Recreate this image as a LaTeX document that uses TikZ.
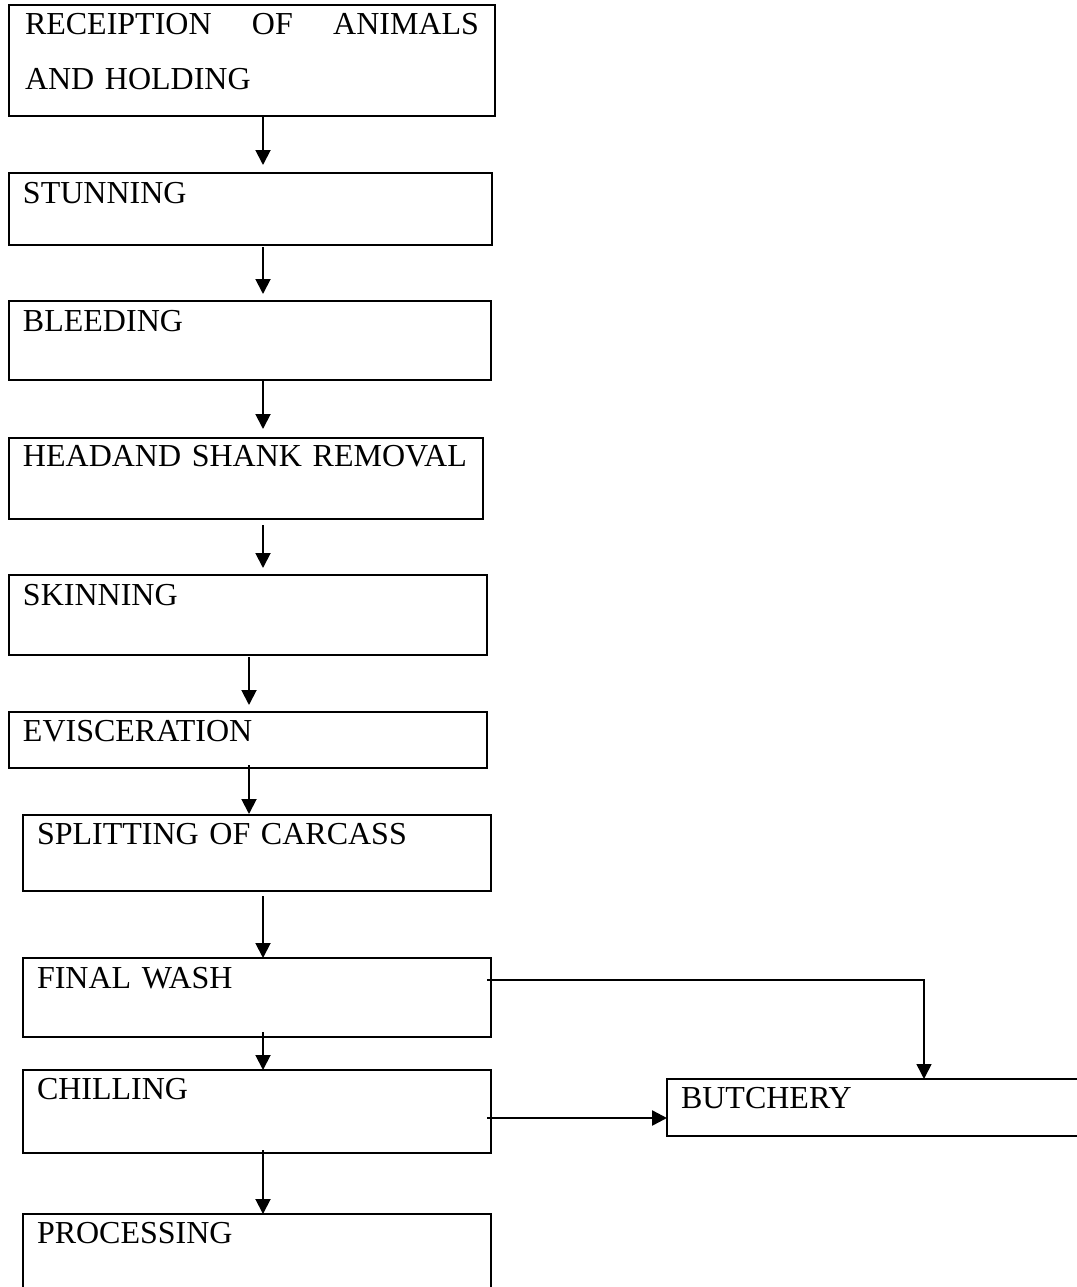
\documentclass[tikz,border=0pt]{standalone}
\usepackage{fontspec}
\setmainfont{Liberation Serif}
\usetikzlibrary{positioning,arrows.meta}

\begin{document}
\begin{tikzpicture}[x=1pt,y=-1pt,
   stage/.style={draw, rectangle, line width=2.3pt, outer sep=0pt, anchor=north west, inner xsep=14pt, inner ysep=0pt,
      align=left, text height=30pt, font=\fontsize{32}{55}\selectfont},
   flow/.style={-{Triangle[width=15pt,length=15pt]}, line width=1.9pt}]
   \useasboundingbox (0,0) rectangle (1076,1287);
   \coordinate (colA) at (263,0);
   \coordinate (colB) at (249,0);

   \node[stage, text width=454pt, minimum width=486pt, text depth=81pt] (recv) at (9,5)
   {RECEIPTION\hfill OF\hfill ANIMALS\\AND HOLDING};
   \node[stage, text width=455pt, text depth=42pt] (stun) [below=57pt of recv.south west, anchor=north west]
   {STUNNING};
   \node[stage, text width=454pt, text depth=49pt] (bleed) [below=56pt of stun.south west, anchor=north west]
   {BLEEDING};
   \node[stage, text width=446pt, text height=28pt, text depth=53pt] (head) [below=58pt of bleed.south west, anchor=north west]
   {HEADAND SHANK REMOVAL};
   \node[stage, text width=450pt, text depth=50pt] (skin) [below=56pt of head.south west, anchor=north west]
   {SKINNING};
   \node[stage, text width=450pt, text height=29pt, text depth=27pt] (evis) [below=57pt of skin.south west, anchor=north west]
   {EVISCERATION};
   \node[stage, text width=440pt, text height=29pt, text depth=47pt] (split) [below=47pt of evis.south west, anchor=north west, xshift=14pt]
   {SPLITTING OF CARCASS};
   \node[stage, text width=440pt, text depth=49pt] (wash) [below=67pt of split.south west, anchor=north west]
   {FINAL WASH};
   \node[stage, text width=440pt, text height=29pt, text depth=54pt] (chill) [below=33pt of wash.south west, anchor=north west]
   {CHILLING};
   \node[stage, text width=440pt, text height=29pt, text depth=61pt] (proc) [below=61pt of chill.south west, anchor=north west]
   {PROCESSING};
   \node[stage, text width=402pt, text height=29pt, text depth=28pt] (butch) [right=176pt of chill.north east, anchor=north west, yshift=-9pt]
   {BUTCHERY};

   % main line
   \draw[flow, shorten >=8pt] (recv.south -| colA) -- (stun.north -| colA);
   \draw[flow, shorten <=2pt, shorten >=7pt] (stun.south -| colA) -- (bleed.north -| colA);
   \draw[flow, shorten >=9pt] (bleed.south -| colA) -- (head.north -| colA);
   \draw[flow, shorten <=6pt, shorten >=7pt] (head.south -| colA) -- (skin.north -| colA);
   \draw[flow, shorten <=2pt, shorten >=7pt] (skin.south -| colB) -- (evis.north -| colB);
   \draw[flow, shorten <=-3pt, shorten >=1pt] (evis.south -| colB) -- (split.north -| colB);
   \draw[flow, shorten <=5pt] (split.south -| colA) -- (wash.north -| colA);
   \draw[flow, shorten <=-5pt] (wash.south -| colA) -- (chill.north -| colA);
   \draw[flow, shorten <=-3pt] (chill.south -| colA) -- (proc.north -| colA);
   % to butchery
   \draw[flow, line width=1.5pt, shorten <=-4pt] ([yshift=17.5pt]wash.east) -| ([xshift=257pt]butch.north west);
   \draw[flow, line width=2.5pt, shorten <=-4pt] ([yshift=-6.5pt]chill.east) -- ([yshift=-6.5pt]chill.east -| butch.west);
\end{tikzpicture}
\end{document}
